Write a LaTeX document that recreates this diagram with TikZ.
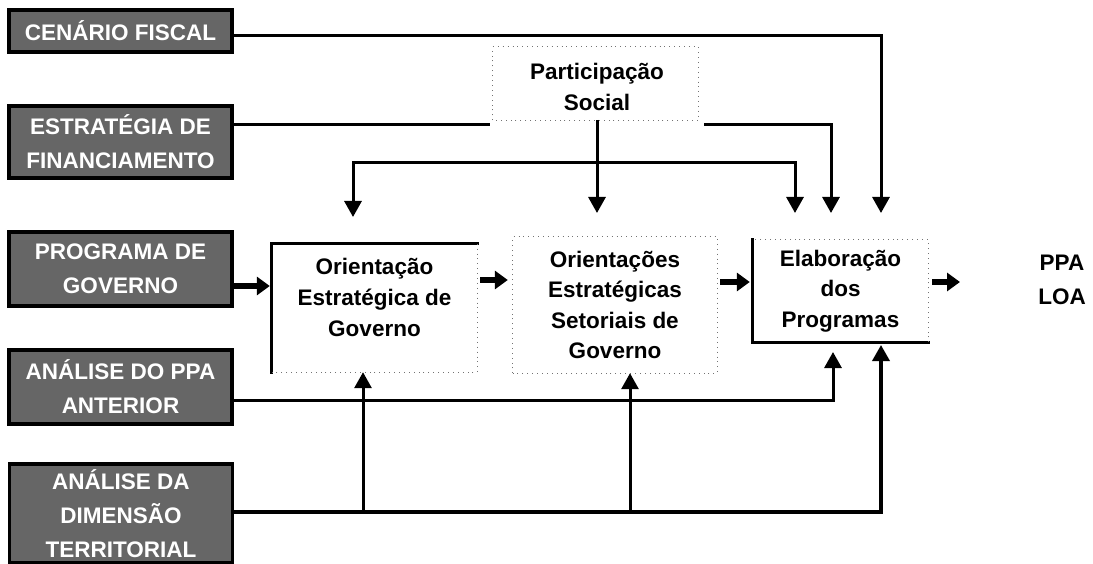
\documentclass[tikz,border=0pt]{standalone}
\usepackage{fontspec}
\setmainfont{Liberation Sans}
\usetikzlibrary{arrows.meta,calc}
\tikzset{
  lbox/.style={draw=black, line width=3.5pt, fill=black!60, text=white,
    font=\fontsize{22.5}{34}\selectfont\bfseries, align=center,
    minimum width=223pt, inner sep=0pt},
  cbox/.style={inner sep=0pt, align=center,
    font=\fontsize{22.5}{30.5}\selectfont\bfseries},
  ctext/.style={inner sep=0pt, align=center,
    font=\fontsize{22.5}{31}\selectfont\bfseries},
  solidb/.style={line width=3pt, line cap=rect},
  dotb/.style={draw=black!55, line width=0.9pt, dash pattern=on 0.9pt off 4pt},
  wire/.style={line width=3pt},
  conn/.style={line width=3pt, -{Triangle[length=16pt,width=17pt]}},
  conn2/.style={line width=3pt, {Triangle[length=16pt,width=17pt]}-{Triangle[length=16pt,width=17pt]}},
  bar/.style={line width=5.5pt, -{Triangle[length=13pt,width=18pt]}},
}
\begin{document}
\begin{tikzpicture}[x=1pt,y=-1pt]
\useasboundingbox (0,0) rectangle (1093,564);

% left input boxes
\node[lbox, minimum height=42pt] (cf) at (120.5,31) {CENÁRIO FISCAL};
\node[lbox, minimum height=72pt] (ef) at (120.5,142) {ESTRATÉGIA DE\\FINANCIAMENTO};
\node[lbox, minimum height=74pt] (pg) at (120.5,269) {PROGRAMA DE\\GOVERNO};
\node[lbox, minimum height=74pt] (ap) at (120.5,387) {ANÁLISE DO PPA\\ANTERIOR};
\node[lbox, minimum height=99pt] (ad) at (121,513.5) {ANÁLISE DA\\DIMENSÃO\\TERRITORIAL};

% coordinates for free arrow ends
\coordinate (t1) at (881,213);
\coordinate (t2) at (831,213);
\coordinate (h1) at (353,163);
\coordinate (h2) at (795,163);
\coordinate (t3) at (353,217);
\coordinate (t4) at (795,213);
\coordinate (t6) at (833,352);
\coordinate (t7) at (881,345);
\coordinate (b1) at (363,512);
\coordinate (b2) at (630,512);
\coordinate (ppain) at (960,282);

% lines from the top inputs
\draw[conn] ([yshift=-5pt]cf.east) -| (t1);
\draw[conn] ([yshift=17pt]ef.east) -| (t2);

% participation box (covers the line beneath it)
\node[cbox, fill=white, minimum width=214pt, minimum height=82pt] (ps) at (597,87) {Participação\\Social};
\draw[dotb] ($(ps.south west)+(3,-8)$) rectangle ($(ps.north east)+(-6,1)$);

% main boxes
\node[cbox, minimum width=205pt, minimum height=128pt] (og) at (374.5,308) {};
\node[ctext] (ogt) at (374.5,297) {Orientação\\Estratégica de\\Governo};
\node[cbox, minimum width=204pt, minimum height=136pt] (os) at (615,305) {Orientações\\Estratégicas\\Setoriais de\\Governo};
\node[cbox, minimum width=175pt, minimum height=102pt] (el) at (840.5,291) {Elaboração\\dos\\Programas};
\node[cbox, font=\fontsize{22.5}{34}\selectfont\bfseries] (ppa) at (1062,280) {PPA\\LOA};

% box borders
\draw[solidb] (og.south west) -- (og.north west) -- (og.north east);
\draw[dotb] (og.north east) -- (og.south east) -- (og.south west);
\draw[dotb] (os.south west) rectangle (os.north east);
\draw[solidb] (el.north west) -- (el.south west) -- (el.south east);
\draw[dotb] (el.south east) -- (el.north east) -- (el.north west);

% participation feeds
\draw[conn2] (t3) -- (h1) -- (h2) -- (t4);
\draw[conn] (ps.south |- 0,120) -- (ps.south |- t4);

% flow arrows
\draw[bar] ([yshift=-17pt]pg.east) -- ([yshift=22pt,xshift=-2pt]og.west);
\draw[bar] ([yshift=28pt,xshift=3pt]og.east) -- ([yshift=25pt,xshift=-5pt]os.west);
\draw[bar] ([yshift=23pt,xshift=3pt]os.east) -- ([yshift=9pt,xshift=-3pt]el.west);
\draw[bar] ([yshift=9pt,xshift=4pt]el.east) -- (ppain);

% bottom inputs
\draw[conn] ([yshift=-13pt]ap.east) -| (t6);
\draw[wire, line width=3.5pt] ([yshift=1.5pt]ad.east) -- (b1) -- (b2);
\draw[conn, line width=3.5pt] (b2) -| (t7);
\draw[conn] (b1) -- (b1 |- og.south);
\draw[conn] (b2) -- (b2 |- os.south);
\end{tikzpicture}
\end{document}
